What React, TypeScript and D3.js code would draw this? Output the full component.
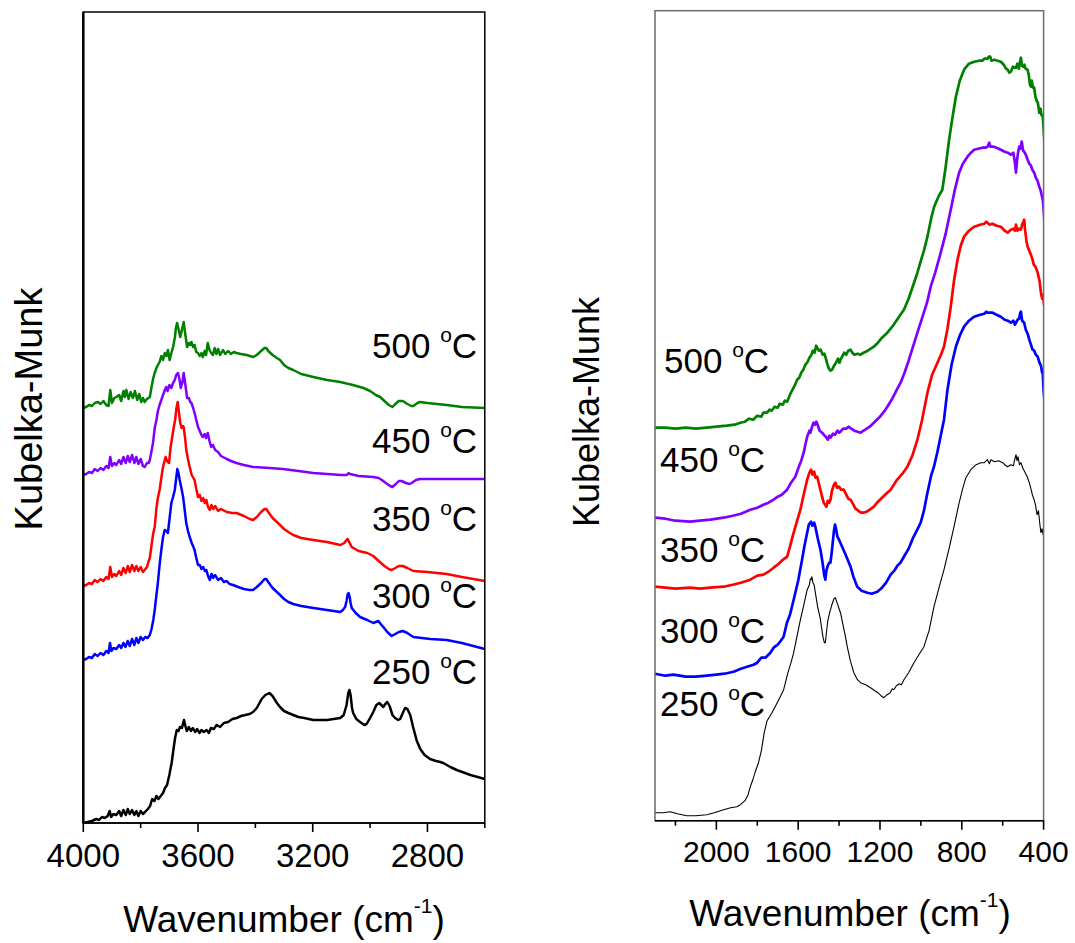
import React from "react";
import * as d3 from "d3";

type Pt = [number, number];

// ---------- Left panel (OH region) : [wavenumber, Kubelka-Munk (a.u.)] ----------
const left250: Pt[] = [[4000,0],[3985,1],[3970,2],[3955,4],[3945,3],[3935,6],[3925,5],[3915,7],[3908,12],[3903,6],[3895,9],[3885,8],[3875,12],[3868,7],[3860,13],[3852,8],[3845,14],[3838,9],[3830,13],[3822,8],[3815,12],[3808,7],[3800,12],[3792,9],[3785,11],[3775,14],[3767,17],[3760,24],[3752,22],[3745,27],[3738,24],[3730,27],[3722,30],[3715,35],[3708,38],[3700,48],[3692,60],[3685,75],[3680,85],[3674,93],[3668,92],[3663,96],[3656,95],[3649,103],[3644,97],[3639,92],[3632,96],[3625,92],[3618,95],[3610,91],[3603,94],[3595,90],[3588,93],[3580,91],[3570,93],[3562,90],[3555,95],[3545,94],[3535,98],[3523,96],[3510,100],[3495,101],[3480,104],[3465,105],[3450,107],[3435,108],[3420,109],[3408,111],[3395,115],[3378,124],[3365,128],[3351,130],[3340,127],[3325,120],[3314,116],[3300,112],[3285,110],[3268,108],[3250,106],[3230,105],[3198,103],[3150,103],[3104,105],[3092,108],[3082,118],[3076,130],[3072,133],[3068,128],[3063,115],[3059,110],[3048,104],[3035,101],[3020,98],[3012,99],[3000,105],[2989,111],[2978,118],[2968,120],[2961,118],[2954,116],[2947,119],[2940,121],[2932,117],[2922,108],[2913,105],[2902,103],[2895,104],[2886,110],[2878,115],[2870,114],[2860,108],[2850,96],[2837,82],[2825,74],[2810,68],[2791,64],[2770,62],[2755,61],[2745,60],[2720,56],[2698,53],[2650,48],[2600,44]];

const left300: Pt[] = [[4000,163],[3990,164],[3980,166],[3970,165],[3960,169],[3950,167],[3940,170],[3930,168],[3920,172],[3912,170],[3907,180],[3902,172],[3895,175],[3885,174],[3875,178],[3868,175],[3860,180],[3853,176],[3845,182],[3838,177],[3830,184],[3822,178],[3815,185],[3808,180],[3800,186],[3792,183],[3784,186],[3776,185],[3768,188],[3762,194],[3756,203],[3751,213],[3745,228],[3740,240],[3734,258],[3728,273],[3722,286],[3716,293],[3710,292],[3705,290],[3699,305],[3693,320],[3687,326],[3681,333],[3676,345],[3672,354],[3668,350],[3664,343],[3658,335],[3652,326],[3646,312],[3641,300],[3635,292],[3629,286],[3622,280],[3616,276],[3612,273],[3606,265],[3600,258],[3594,258],[3588,254],[3582,256],[3576,252],[3571,253],[3565,247],[3559,243],[3553,249],[3547,245],[3541,248],[3536,246],[3530,243],[3520,245],[3510,241],[3500,242],[3490,239],[3478,238],[3460,236],[3440,234],[3420,233],[3408,233],[3395,236],[3380,240],[3368,244],[3362,244],[3355,241],[3340,235],[3325,231],[3314,228],[3300,224],[3285,221],[3268,219],[3240,217],[3198,215],[3150,213],[3104,211],[3095,213],[3087,216],[3082,222],[3078,229],[3075,230],[3071,226],[3068,220],[3064,215],[3050,210],[3035,206],[3010,203],[2989,200],[2980,201],[2971,202],[2963,199],[2954,196],[2940,191],[2925,187],[2912,189],[2900,191],[2886,192],[2870,190],[2860,188],[2849,186],[2820,185],[2790,184],[2733,183],[2680,180],[2640,177],[2600,174]];

const left350: Pt[] = [[4000,237],[3990,238],[3980,240],[3970,239],[3960,243],[3950,241],[3940,244],[3930,242],[3920,246],[3912,244],[3906,256],[3900,246],[3892,249],[3885,247],[3875,252],[3868,248],[3860,255],[3852,250],[3845,257],[3838,251],[3830,258],[3822,252],[3815,257],[3808,252],[3800,256],[3792,251],[3786,253],[3778,256],[3772,262],[3768,265],[3762,278],[3756,290],[3751,296],[3745,315],[3740,325],[3734,333],[3728,345],[3722,356],[3717,362],[3713,366],[3708,362],[3701,360],[3696,375],[3690,386],[3685,395],[3680,403],[3675,415],[3671,421],[3667,412],[3662,400],[3657,395],[3653,397],[3650,396],[3645,385],[3641,373],[3635,364],[3629,356],[3622,348],[3612,343],[3606,334],[3600,326],[3594,328],[3588,322],[3582,325],[3576,320],[3571,323],[3565,316],[3559,313],[3553,318],[3547,314],[3540,317],[3530,312],[3520,314],[3513,313],[3500,311],[3480,310],[3466,310],[3440,307],[3420,304],[3408,303],[3395,306],[3380,311],[3368,314],[3362,314],[3355,311],[3340,305],[3325,301],[3314,298],[3300,294],[3285,291],[3268,288],[3240,285],[3198,283],[3150,281],[3104,278],[3090,280],[3082,283],[3078,284],[3073,281],[3064,276],[3040,272],[3010,270],[2989,267],[2970,262],[2950,257],[2935,254],[2925,253],[2912,255],[2900,257],[2886,257],[2870,255],[2849,252],[2800,251],[2733,249],[2680,246],[2600,242]];

const left450: Pt[] = [[4000,348],[3990,349],[3980,351],[3970,350],[3960,354],[3950,352],[3940,355],[3930,353],[3920,357],[3912,355],[3906,366],[3900,357],[3892,360],[3885,358],[3875,363],[3868,359],[3860,366],[3852,360],[3845,367],[3838,361],[3830,368],[3822,360],[3815,366],[3808,359],[3800,364],[3792,357],[3786,356],[3778,360],[3772,360],[3768,363],[3762,372],[3757,380],[3751,395],[3745,403],[3740,412],[3734,418],[3728,423],[3722,428],[3716,433],[3711,436],[3706,432],[3700,438],[3693,435],[3687,440],[3681,443],[3676,448],[3670,450],[3665,444],[3660,435],[3655,440],[3650,450],[3645,440],[3638,425],[3632,425],[3627,421],[3623,420],[3617,415],[3612,410],[3606,403],[3600,396],[3594,392],[3588,388],[3583,386],[3577,389],[3572,385],[3566,390],[3560,382],[3554,376],[3548,378],[3540,373],[3530,371],[3520,367],[3513,366],[3500,364],[3485,362],[3466,360],[3440,358],[3408,356],[3350,355],[3304,354],[3250,352],[3198,350],[3150,349],[3100,348],[3081,348],[3075,350],[3070,349],[3040,347],[2989,346],[2970,345],[2959,343],[2945,340],[2930,337],[2922,336],[2910,339],[2900,342],[2890,342],[2875,340],[2862,339],[2855,340],[2840,343],[2826,344],[2750,344],[2600,344]];

const left500: Pt[] = [[4000,415],[3990,416],[3980,418],[3970,417],[3960,420],[3949,421],[3940,419],[3930,422],[3920,418],[3912,417],[3906,433],[3900,420],[3892,425],[3885,426],[3875,428],[3868,422],[3860,432],[3855,426],[3850,433],[3842,424],[3835,431],[3827,425],[3820,432],[3812,423],[3805,429],[3798,421],[3792,425],[3786,421],[3778,424],[3768,426],[3762,436],[3756,445],[3751,450],[3745,455],[3740,458],[3734,461],[3728,467],[3722,463],[3716,470],[3710,467],[3705,473],[3699,463],[3693,470],[3687,476],[3681,485],[3677,495],[3673,500],[3668,494],[3662,486],[3657,492],[3650,501],[3645,490],[3638,476],[3632,480],[3627,478],[3623,481],[3617,476],[3612,478],[3606,471],[3600,470],[3594,467],[3588,470],[3583,466],[3577,472],[3572,468],[3566,480],[3560,473],[3554,470],[3548,468],[3542,475],[3536,469],[3530,474],[3523,468],[3513,473],[3505,469],[3495,472],[3485,469],[3475,471],[3466,470],[3450,469],[3430,468],[3408,466],[3395,468],[3380,472],[3368,475],[3362,475],[3355,472],[3340,468],[3325,465],[3314,463],[3300,458],[3285,455],[3268,453],[3240,449],[3198,446],[3150,443],[3104,441],[3060,438],[3023,435],[3000,432],[2980,428],[2965,426],[2950,422],[2935,418],[2922,416],[2912,419],[2900,422],[2886,422],[2870,419],[2856,417],[2849,417],[2835,420],[2826,421],[2800,420],[2733,418],[2680,416],[2600,415]];

// ---------- Right panel (lattice / carbonate region) ----------
const right250: Pt[] = [[2300,8],[2260,8],[2226,9],[2190,7],[2145,5],[2100,5],[2047,6],[2010,8],[1965,11],[1930,13],[1900,14],[1883,16],[1860,20],[1845,26],[1834,34],[1820,42],[1808,50],[1794,58],[1780,70],[1766,88],[1752,100],[1740,104],[1728,108],[1710,115],[1690,123],[1671,131],[1650,148],[1635,158],[1622,168],[1605,185],[1589,201],[1572,216],[1556,231],[1545,236],[1540,242],[1537,241],[1533,244],[1528,238],[1522,236],[1516,228],[1505,214],[1495,205],[1491,201],[1485,192],[1478,183],[1472,178],[1467,178],[1462,188],[1455,200],[1446,208],[1435,216],[1425,222],[1418,223],[1410,218],[1400,212],[1393,208],[1380,195],[1370,185],[1360,174],[1345,160],[1328,148],[1310,141],[1295,138],[1270,136],[1246,133],[1225,130],[1210,128],[1195,125],[1181,123],[1165,126],[1150,128],[1140,132],[1132,131],[1120,135],[1105,137],[1095,136],[1083,141],[1060,148],[1034,158],[1010,166],[985,174],[960,190],[936,214],[910,234],[887,251],[860,274],[838,294],[815,316],[797,331],[780,343],[756,351],[730,356],[707,358],[690,358],[675,361],[665,357],[658,361],[640,359],[620,360],[600,358],[590,356],[576,354],[560,356],[548,355],[540,362],[535,366],[530,360],[525,364],[518,356],[511,358],[500,352],[490,348],[480,344],[470,338],[462,332],[455,326],[448,322],[440,316],[432,306],[425,310],[418,296],[413,288],[408,292],[402,286],[397,284]];

const right300: Pt[] = [[2300,147],[2250,145],[2210,146],[2150,144],[2100,144],[2047,145],[2000,146],[1960,147],[1916,149],[1880,152],[1850,154],[1818,156],[1800,158],[1780,163],[1760,163],[1736,168],[1720,173],[1700,176],[1685,180],[1671,184],[1655,198],[1640,206],[1622,221],[1600,240],[1581,261],[1570,274],[1556,288],[1548,296],[1540,298],[1537,299],[1530,295],[1522,298],[1516,294],[1505,283],[1491,271],[1480,257],[1472,245],[1467,241],[1462,250],[1455,255],[1448,258],[1442,258],[1435,270],[1425,290],[1420,296],[1416,293],[1408,284],[1398,280],[1385,274],[1370,267],[1356,260],[1344,254],[1330,244],[1311,234],[1290,230],[1262,228],[1240,227],[1213,229],[1190,233],[1170,238],[1148,246],[1130,250],[1115,255],[1100,258],[1083,264],[1060,272],[1040,282],[1020,290],[1001,298],[985,310],[970,326],[950,345],[936,354],[920,368],[900,388],[887,401],[870,431],[850,456],[829,474],[810,485],[789,494],[765,500],[740,504],[710,506],[690,507],[680,509],[674,508],[665,508],[650,508],[630,506],[609,504],[590,501],[575,500],[560,498],[548,500],[540,496],[527,501],[520,502],[514,508],[511,509],[505,500],[495,498],[487,491],[478,487],[470,481],[462,476],[454,471],[446,470],[438,466],[429,464],[420,458],[413,455],[407,448],[404,448],[400,430],[396,421]];

const right350: Pt[] = [[2300,234],[2250,233],[2200,232],[2128,233],[2080,232],[2030,233],[1965,234],[1920,236],[1880,238],[1834,241],[1800,245],[1770,246],[1745,249],[1720,253],[1700,256],[1680,260],[1654,264],[1640,274],[1630,282],[1622,288],[1605,300],[1589,311],[1572,327],[1556,341],[1545,348],[1537,351],[1530,346],[1522,349],[1515,343],[1507,344],[1495,334],[1483,324],[1475,318],[1468,316],[1462,314],[1455,320],[1448,318],[1442,321],[1435,330],[1425,336],[1418,338],[1410,333],[1400,334],[1390,331],[1377,331],[1365,326],[1355,322],[1344,321],[1330,316],[1320,312],[1311,311],[1300,309],[1290,308],[1282,308],[1265,309],[1250,311],[1230,314],[1210,319],[1190,323],[1170,327],[1148,331],[1120,340],[1090,347],[1066,354],[1040,366],[1017,381],[995,400],[968,428],[945,446],[919,458],[900,467],[887,474],[870,492],[854,514],[838,540],[821,561],[805,575],[789,584],[765,590],[740,594],[710,596],[690,597],[680,599],[674,598],[665,596],[650,597],[630,595],[609,594],[590,590],[576,588],[560,591],[548,592],[540,590],[535,596],[528,590],[520,592],[511,591],[505,596],[500,598],[495,601],[490,590],[484,580],[478,574],[470,570],[462,566],[454,561],[448,556],[440,554],[432,550],[429,548],[420,540],[413,528],[407,522],[403,526],[399,518],[396,514]];

const right450: Pt[] = [[2300,303],[2250,302],[2200,300],[2128,299],[2080,300],[2030,301],[1965,303],[1920,305],[1880,307],[1834,311],[1800,313],[1770,316],[1745,318],[1720,321],[1700,324],[1680,326],[1654,331],[1635,338],[1614,344],[1595,355],[1585,360],[1573,368],[1565,376],[1556,384],[1545,390],[1540,388],[1532,394],[1525,398],[1518,396],[1511,399],[1505,396],[1495,390],[1483,388],[1475,386],[1465,384],[1455,381],[1448,385],[1442,383],[1430,387],[1420,386],[1408,390],[1400,388],[1393,389],[1380,392],[1365,392],[1352,394],[1340,392],[1325,390],[1310,389],[1295,388],[1280,390],[1265,392],[1250,394],[1230,398],[1200,404],[1180,409],[1164,414],[1140,422],[1120,430],[1099,438],[1080,448],[1060,460],[1040,473],[1017,488],[995,502],[970,518],[952,534],[930,548],[903,568],[880,586],[854,611],[835,630],[813,648],[795,657],[772,664],[755,668],[740,671],[720,672],[700,673],[686,673],[674,674],[666,678],[660,674],[645,674],[630,673],[609,671],[590,669],[575,668],[560,666],[548,668],[540,658],[535,648],[530,660],[525,668],[519,674],[513,672],[507,679],[500,670],[492,668],[485,665],[478,661],[470,657],[462,655],[455,651],[446,648],[438,643],[430,640],[421,634],[414,630],[410,626],[404,621],[400,612],[396,598]];

const right500: Pt[] = [[2300,393],[2250,393],[2200,392],[2150,393],[2100,392],[2047,393],[2000,394],[1950,395],[1910,396],[1883,398],[1860,399],[1840,402],[1820,401],[1800,405],[1780,404],[1770,408],[1752,408],[1740,411],[1730,410],[1715,414],[1700,413],[1690,417],[1675,416],[1665,420],[1654,419],[1640,426],[1625,432],[1615,436],[1605,441],[1595,443],[1585,448],[1575,451],[1565,456],[1556,458],[1545,463],[1535,466],[1528,470],[1520,468],[1512,475],[1507,473],[1498,470],[1490,471],[1480,466],[1472,467],[1467,464],[1458,457],[1450,452],[1442,450],[1434,451],[1425,455],[1415,458],[1405,462],[1398,458],[1393,461],[1385,464],[1375,468],[1365,466],[1355,470],[1344,471],[1335,468],[1325,466],[1310,467],[1295,466],[1280,468],[1260,470],[1245,472],[1230,474],[1210,478],[1190,483],[1164,488],[1140,494],[1120,500],[1100,506],[1083,511],[1060,522],[1040,534],[1017,548],[1000,560],[985,570],[968,584],[950,602],[935,614],[927,618],[912,625],[895,631],[880,652],[862,681],[845,704],[829,724],[810,740],[789,751],[765,757],[740,759],[715,760],[700,760],[690,762],[674,762],[668,764],[661,764],[655,760],[640,761],[625,760],[609,759],[595,756],[584,752],[576,751],[568,748],[560,749],[550,754],[543,753],[535,753],[528,757],[521,752],[516,758],[511,763],[506,755],[500,754],[494,756],[488,752],[478,751],[472,745],[467,736],[462,734],[458,740],[452,733],[446,733],[440,724],[434,720],[428,718],[421,708],[415,712],[411,706],[404,704],[400,692],[396,678]];

const temperatures = ["500", "450", "350", "300", "250"];
const leftMajorTicks = [4000, 3600, 3200, 2800];
const leftMinorTicks = [3800, 3400, 3000, 2600];
const rightMajorTicks = [2000, 1600, 1200, 800, 400];
const rightMinorTicks = [2200, 1800, 1400, 1000, 600];

const FONT = "Liberation Sans, Arial, Helvetica, sans-serif";

type Series = { data: Pt[]; color: string; width: number };

const leftSeries: Series[] = [
  { data: left250, color: "#000000", width: 2.5 },
  { data: left300, color: "#0000ff", width: 2.5 },
  { data: left350, color: "#ff0000", width: 2.5 },
  { data: left450, color: "#8000ff", width: 2.5 },
  { data: left500, color: "#008000", width: 2.5 },
];
const rightSeries: Series[] = [
  { data: right250, color: "#000000", width: 1.1 },
  { data: right300, color: "#0000ff", width: 2.7 },
  { data: right350, color: "#ff0000", width: 2.7 },
  { data: right450, color: "#8000ff", width: 2.7 },
  { data: right500, color: "#008000", width: 2.7 },
];

function TempLabel({ x, y, t, size }: { x: number; y: number; t: string; size: number }) {
  const sup = Math.round(size * 0.6);
  return (
    <text x={x} y={y} fontFamily={FONT} fontSize={size} fill="#000">
      {t + " "}
      <tspan dy={-size * 0.46} fontSize={sup}>o</tspan>
      <tspan dy={size * 0.46}>C</tspan>
    </text>
  );
}

function Panel(props: {
  x0: number; x1: number; y0: number; y1: number;
  domain: [number, number]; ydomain: [number, number];
  series: Series[]; major: number[]; minor: number[];
  tickFont: number; tickBaseline: number; frameColor: string; leftThick: boolean;
  clipId: string;
}) {
  const { x0, x1, y0, y1, domain, ydomain, series, major, minor, tickFont, tickBaseline, frameColor, leftThick, clipId } = props;
  const x = d3.scaleLinear().domain(domain).range([x0, x1]);
  const y = d3.scaleLinear().domain(ydomain).range([y1, y0]);
  const line = d3.line<Pt>().x((d) => x(d[0])).y((d) => y(d[1]));
  return (
    <g>
      <defs>
        <clipPath id={clipId}>
          <rect x={x0} y={y0} width={x1 - x0} height={y1 - y0} />
        </clipPath>
      </defs>
      <g clipPath={`url(#${clipId})`}>
        {series.map((s, i) => (
          <path key={i} d={line(s.data) || ""} fill="none" stroke={s.color} strokeWidth={s.width} strokeLinejoin="round" />
        ))}
      </g>
      <rect x={x0} y={y0} width={x1 - x0} height={y1 - y0} fill="none" stroke={frameColor} strokeWidth={1.5} />
      {leftThick && <line x1={x0} x2={x0} y1={y0} y2={y1} stroke="#000" strokeWidth={2.5} />}
      <line x1={x0} x2={x1} y1={y1} y2={y1} stroke="#000" strokeWidth={1.6} />
      {major.map((t) => (
        <g key={"M" + t}>
          <line x1={x(t)} x2={x(t)} y1={y1} y2={y1 + 9} stroke="#000" strokeWidth={1.6} />
          <text x={x(t)} y={tickBaseline} textAnchor="middle" fontFamily={FONT} fontSize={tickFont} fill="#000">{t}</text>
        </g>
      ))}
      {minor.map((t) => (
        <line key={"m" + t} x1={x(t)} x2={x(t)} y1={y1} y2={y1 + 5} stroke="#000" strokeWidth={1.6} />
      ))}
    </g>
  );
}

export default function App() {
  const leftLabelY = [358, 453, 531, 608, 684];
  const rightLabelY = [373, 472, 562, 643, 716];
  return (
    <svg width={1075} height={943} style={{ display: "block", position: "absolute", left: 0, top: 0 }}>
      <rect width={1075} height={943} fill="#fff" />
      <Panel x0={83.3} x1={484.8} y0={12} y1={823} domain={[4000, 2600]} ydomain={[0, 811]}
        series={leftSeries} major={leftMajorTicks} minor={leftMinorTicks}
        tickFont={33} tickBaseline={867} frameColor="#000" leftThick={true} clipId="clipL" />
      <Panel x0={655} x1={1043.6} y0={10.7} y1={820.7} domain={[2300, 400]} ydomain={[0, 810]}
        series={rightSeries} major={rightMajorTicks} minor={rightMinorTicks}
        tickFont={30} tickBaseline={862} frameColor="#6b6b6b" leftThick={false} clipId="clipR" />

      {temperatures.map((t, i) => (
        <TempLabel key={"l" + t} x={372} y={leftLabelY[i]} t={t} size={35} />
      ))}
      {temperatures.map((t, i) => (
        <TempLabel key={"r" + t} x={i === 0 ? 664 : 660} y={rightLabelY[i]} t={t} size={35} />
      ))}

      <text x={284} y={932} textAnchor="middle" fontFamily={FONT} fontSize={37} fill="#000">
        Wavenumber (cm<tspan dy={-19} fontSize={21}>-1</tspan><tspan dy={19}>)</tspan>
      </text>
      <text x={850} y={926} textAnchor="middle" fontFamily={FONT} fontSize={37} fill="#000">
        Wavenumber (cm<tspan dy={-19} fontSize={21}>-1</tspan><tspan dy={19}>)</tspan>
      </text>

      <text transform="translate(42,409) rotate(-90)" textAnchor="middle" fontFamily={FONT} fontSize={38} fill="#000">Kubelka-Munk</text>
      <text transform="translate(599,412) rotate(-90)" textAnchor="middle" fontFamily={FONT} fontSize={36} fill="#000">Kubelka-Munk</text>
    </svg>
  );
}
